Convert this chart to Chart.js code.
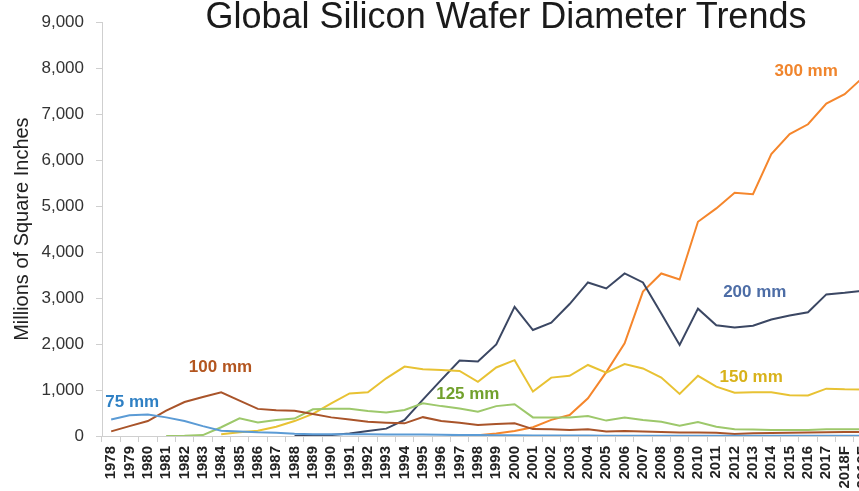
<!DOCTYPE html>
<html>
<head>
<meta charset="utf-8">
<script src="https://cdn.jsdelivr.net/npm/chart.js@4/dist/chart.umd.min.js"></script>
<style>
  html, body { margin: 0; padding: 0; background: #fff; }
  #frame { position: relative; width: 859px; height: 491px; overflow: hidden; background: #fff; }
  #holder { position: absolute; left: 0; top: 0; width: 885px; height: 491px; }
  #title {
    position: absolute; left: 0; width: 1012px; top: -2px; text-align: center;
    font: 36px "Liberation Sans", Arial, sans-serif; line-height: 36px; color: #1a1a1a;
    white-space: nowrap;
  }
</style>
</head>
<body>
<div id="frame">
  <div id="holder"><canvas id="wafers"></canvas></div>
  <div id="title">Global Silicon Wafer Diameter Trends</div>
</div>
<script>
// years on the x axis
var years = ['1978','1979','1980','1981','1982','1983','1984','1985','1986','1987',
             '1988','1989','1990','1991','1992','1993','1994','1995','1996','1997',
             '1998','1999','2000','2001','2002','2003','2004','2005','2006','2007',
             '2008','2009','2010','2011','2012','2013','2014','2015','2016','2017',
             '2018F','2019F'];

// millions of square inches
var mm75  = [360,450,470,405,325,215,115,100,80,70,50,40,40,40,40,35,35,30,25,20,
             20,15,15,10,10,10,10,5,5,5,5,5,5,5,5,5,5,5,5,5,5,5];
var mm100 = [100,215,325,550,740,850,950,770,590,560,550,480,405,360,310,290,275,410,325,290,
             240,260,275,150,145,130,145,100,110,100,85,75,75,70,45,60,65,70,75,80,85,85];
var mm125 = [null,null,null,0,5,20,190,385,295,350,380,580,590,590,545,510,565,710,650,600,
             530,650,690,405,405,405,435,335,400,350,310,225,305,200,145,140,130,130,130,145,145,145];
var mm150 = [null,null,null,null,null,null,40,80,115,200,325,480,710,925,950,1255,1510,1450,1435,1415,
             1180,1490,1650,965,1270,1310,1545,1380,1565,1470,1270,915,1310,1075,940,950,950,885,880,1030,1015,1010];
var mm200 = [null,null,null,null,null,null,null,null,null,null,0,10,20,55,110,160,350,790,1220,1640,
             1620,1990,2810,2305,2465,2870,3340,3210,3535,3340,2665,1980,2770,2410,2360,2400,2535,2620,2690,3080,3115,3160];
var mm300 = [null,null,null,null,null,null,null,null,null,null,null,null,null,null,null,null,null,null,null,5,
             15,55,110,190,350,455,820,1390,2015,3140,3535,3405,4660,4950,5290,5260,6130,6565,6780,7230,7435,7800];

var seriesNames  = ['75 mm','100 mm','125 mm','150 mm','200 mm','300 mm'];
var lineColors   = ['#5b9bd5','#a9542a','#9dc86b','#e8c233','#3b4763','#f5862c'];
var labelColors  = ['#2f80c4','#b3551f','#72a12d','#d8b21a','#4d6da6','#f0852d'];
// where each name sits, as (category index, value)
var labelAtIndex = [1.15, 5.96, 19.45, 34.9, 35.1, 37.9];
var labelAtValue = [740, 1500, 913, 1283, 3130, 7935];

var seriesData = [mm75, mm100, mm125, mm150, mm200, mm300];

var seriesLabels = {
    id: 'seriesLabels',
    afterDatasetsDraw: function(chart) {
        var ctx = chart.ctx, x = chart.scales.x, y = chart.scales.y;
        ctx.save();
        ctx.font = 'bold 17px "Liberation Sans", Arial, sans-serif';
        ctx.textAlign = 'center';
        ctx.textBaseline = 'middle';
        seriesNames.forEach(function(name, i) {
            ctx.fillStyle = labelColors[i];
            ctx.fillText(name, x.getPixelForValue(labelAtIndex[i]), y.getPixelForValue(labelAtValue[i]));
        });
        ctx.restore();
    }
};

var datasets = [];
seriesNames.forEach(function(name, i) {
    datasets.push({
        label: name,
        data: seriesData[i],
        borderColor: lineColors[i],
        backgroundColor: lineColors[i],
        borderWidth: 2,
        pointRadius: 0,
        tension: 0,
        fill: false
    });
});

new Chart(document.getElementById('wafers'), {
    type: 'line',
    data: { labels: years, datasets: datasets },
    plugins: [seriesLabels],
    options: {
        responsive: true,
        maintainAspectRatio: false,
        animation: false,
        layout: { padding: { left: 9, top: 12, right: 0, bottom: 0 } },
        plugins: {
            legend: { display: false },
            tooltip: { enabled: false }
        },
        scales: {
            x: {
                offset: true,
                afterFit: function(scale) { scale.height = 55; },
                grid: { offset: true, drawOnChartArea: false, tickLength: 6, color: '#cfcfcf' },
                border: { color: '#cfcfcf' },
                ticks: {
                    autoSkip: false, maxRotation: 90, minRotation: 90, padding: 4,
                    color: '#222',
                    font: { family: '"Liberation Sans", Arial, sans-serif', size: 15, weight: 'bold' }
                }
            },
            y: {
                min: 0, max: 9000,
                afterFit: function(scale) { scale.width = 93; },
                grid: { drawOnChartArea: false, tickLength: 6, color: '#cfcfcf' },
                border: { color: '#cfcfcf' },
                ticks: {
                    stepSize: 1000, padding: 12, color: '#333',
                    font: { family: '"Liberation Sans", Arial, sans-serif', size: 17 }
                },
                title: {
                    display: true, text: 'Millions of Square Inches', color: '#222',
                    padding: { top: 1, bottom: 7 },
                    font: { family: '"Liberation Sans", Arial, sans-serif', size: 20 }
                }
            }
        }
    }
});
</script>
</body>
</html>
